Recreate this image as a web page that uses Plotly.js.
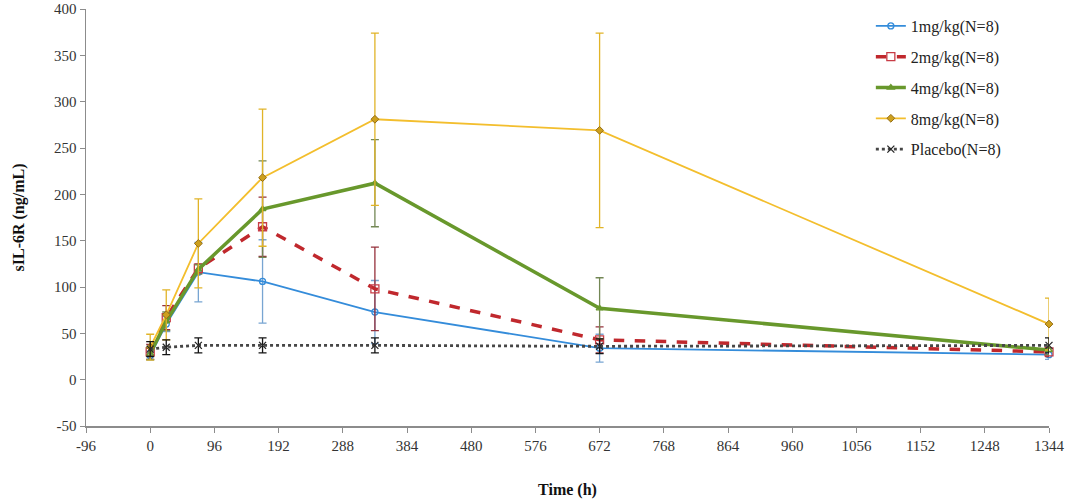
<!DOCTYPE html>
<html>
<head>
<meta charset="utf-8">
<script src="https://cdn.plot.ly/plotly-3.0.1.min.js"></script>
<style>
  html, body { margin: 0; padding: 0; background: #fff; }
  #chart { width: 1065px; height: 499px; }
</style>
</head>
<body>
<div id="chart"></div>
<script>
// sampling times (h)
const hours = [0, 24, 72, 168, 336, 672, 1344];

// mean sIL-6R (ng/mL) and SD
const dose1Mean = [26, 60, 116, 106, 73, 34, 27];
const dose1Sd = [5, 8, 32, 45, 34, 15, 5];
const dose2Mean = [30, 67, 120, 165, 98, 43, 30];
const dose2Sd = [8, 13, 5, 32, 45, 14, 5];
const dose4Mean = [28, 63, 119, 184, 212, 77, 32];
const dose4Sd = [6, 10, 5, 52, 47, 33, 5];
const dose8Mean = [35, 70, 147, 218, 281, 269, 60];
const dose8Sd = [14, 27, 48, 74, 93, 105, 28];
const placeboMean = [33, 35, 37, 37, 37, 36, 37];
const placeboSd = [8, 8, 8, 8, 8, 8, 8];

const seriesNames = [
  "1mg/kg(N=8)",
  "2mg/kg(N=8)",
  "4mg/kg(N=8)",
  "8mg/kg(N=8)",
  "Placebo(N=8)",
];

// axis ticks (plain hyphen minus like the original)
const xTicks = [-96, 0, 96, 192, 288, 384, 480, 576, 672, 768, 864, 960, 1056, 1152, 1248, 1344];
const xTickText = ["-96", "0", "96", "192", "288", "384", "480", "576", "672", "768", "864", "960", "1056", "1152", "1248", "1344"];
const yTicks = [-50, 0, 50, 100, 150, 200, 250, 300, 350, 400];
const yTickText = ["-50", "0", "50", "100", "150", "200", "250", "300", "350", "400"];

const serif = "Liberation Serif";

const makeTrace = (name, y, sd, line, marker, barColor) => ({
  x: hours,
  y: y,
  name: name,
  legendgroup: name,
  type: "scatter",
  mode: "lines+markers",
  line: line,
  marker: marker,
  cliponaxis: false,
  error_y: {
    type: "data",
    array: sd,
    visible: true,
    color: barColor,
    thickness: 1.3,
    width: 4,
  },
});

const traces = [
  makeTrace(
    seriesNames[0],
    dose1Mean,
    dose1Sd,
    { color: "rgb(52,140,218)", width: 1.8 },
    { symbol: "circle-open", size: 6, color: "rgb(52,140,218)", line: { width: 1.3 } },
    "rgb(120,165,210)"
  ),
  makeTrace(
    seriesNames[1],
    dose2Mean,
    dose2Sd,
    { color: "rgb(192,40,45)", width: 3.5, dash: "dash" },
    { symbol: "square-open", size: 8, color: "rgb(200,60,70)", line: { width: 1.3 } },
    "rgb(150,50,60)"
  ),
  makeTrace(
    seriesNames[2],
    dose4Mean,
    dose4Sd,
    { color: "rgb(104,152,44)", width: 3.5 },
    { symbol: "triangle-up-open", size: 6, color: "rgb(104,152,44)", line: { width: 1.3 } },
    "rgb(115,135,85)"
  ),
  makeTrace(
    seriesNames[3],
    dose8Mean,
    dose8Sd,
    { color: "rgb(243,190,45)", width: 1.8 },
    { symbol: "diamond", size: 6, color: "rgb(205,160,30)", line: { width: 1, color: "rgb(150,110,20)" } },
    "rgb(225,180,40)"
  ),
  makeTrace(
    seriesNames[4],
    placeboMean,
    placeboSd,
    { color: "rgb(70,70,70)", width: 2.8, dash: "dot" },
    { symbol: "x-thin-open", size: 7, color: "rgb(40,40,40)", line: { width: 1.3 } },
    "rgb(20,20,20)"
  ),
];

const axisFont = { family: serif, size: 15, color: "#333" };

const layout = {
  width: 1065,
  height: 499,
  paper_bgcolor: "#fff",
  plot_bgcolor: "#fff",
  font: { family: serif, size: 15, color: "#333" },
  margin: { l: 86, r: 16, t: 9, b: 73 },
  showlegend: true,
  legend: {
    x: 0.815,
    y: 1.0,
    xanchor: "left",
    yanchor: "top",
    traceorder: "grouped",
    tracegroupgap: 7,
    font: { family: serif, size: 16, color: "#222" },
    bgcolor: "rgba(255,255,255,0)",
  },
  xaxis: {
    range: [-96, 1344],
    tickmode: "array",
    tickvals: xTicks,
    ticktext: xTickText,
    showgrid: false,
    zeroline: false,
    showline: true,
    linecolor: "#8c8c8c",
    linewidth: 1.5,
    ticks: "outside",
    ticklen: 5,
    tickcolor: "#8c8c8c",
    tickfont: axisFont,
    title: {
      text: "<b>Time (h)</b>",
      font: { family: serif, size: 16, color: "#111" },
      standoff: 31,
    },
  },
  yaxis: {
    range: [-50, 400],
    tickmode: "array",
    tickvals: yTicks,
    ticktext: yTickText,
    showgrid: false,
    zeroline: false,
    showline: true,
    linecolor: "#8c8c8c",
    linewidth: 1.5,
    ticks: "outside",
    ticklen: 5,
    tickcolor: "#8c8c8c",
    tickfont: axisFont,
    title: {
      text: "<b>sIL-6R (ng/mL)</b>",
      font: { family: serif, size: 16, color: "#111" },
      standoff: 25,
    },
  },
};

Plotly.newPlot("chart", traces, layout, { displayModeBar: false, staticPlot: true });
</script>
</body>
</html>
